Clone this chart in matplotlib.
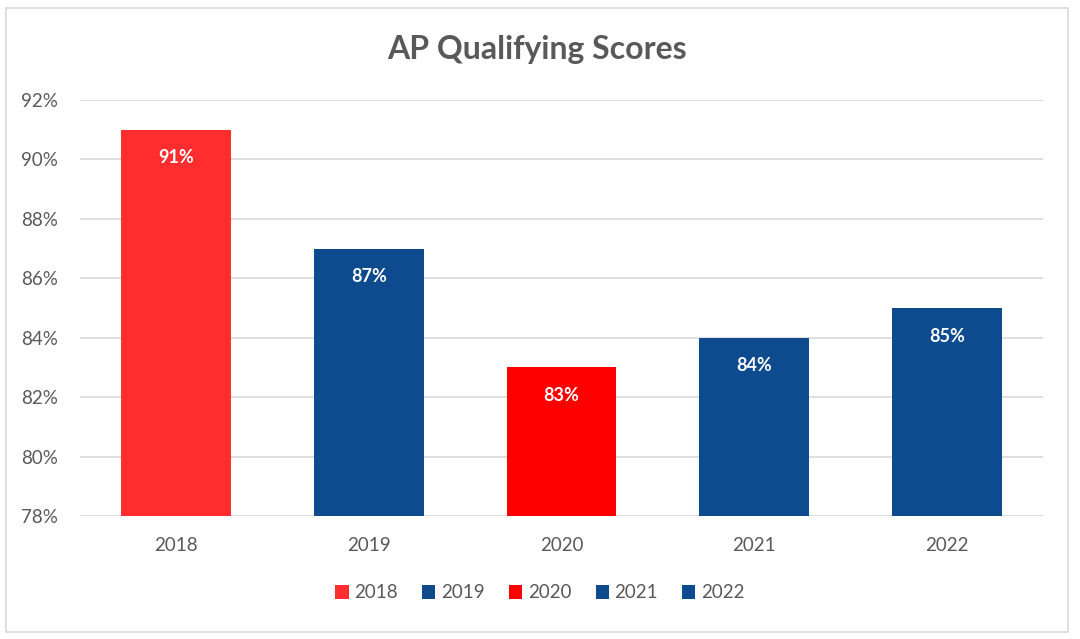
import matplotlib
matplotlib.use("Agg")
import matplotlib.pyplot as plt
from matplotlib.patches import Rectangle, Patch

years = ["2018", "2019", "2020", "2021", "2022"]
scores = [91, 87, 83, 84, 85]
colors = ["#FF2D2D", "#0D4A8E", "#FE0000", "#0D4A8E", "#0D4A8E"]
yticks = [78, 80, 82, 84, 86, 88, 90, 92]

plt.rcParams['font.family'] = ['Lato', 'DejaVu Sans']
W, H = 1080, 639
fig = plt.figure(figsize=(W/100, H/100), dpi=100)
fig.patch.set_facecolor("white")

# outer chart border
fig.patches.append(Rectangle((6/W, 1 - 632/H), (1068-6)/W, (632-8)/H,
                             transform=fig.transFigure, fill=False,
                             edgecolor="#D9D9D9", linewidth=1.2))

ax = fig.add_axes([80/W, 1 - 516/H, (1043-80)/W, (516-100)/H])
x = range(len(years))
bars = ax.bar(x, [s - 78 for s in scores], bottom=78, width=0.57, color=colors, zorder=3)
ax.set_ylim(78, 92)
ax.set_xlim(-0.5, 4.5)
ax.set_yticks(yticks)
ax.set_yticklabels([f"{t}%" for t in yticks])
ax.set_xticks(list(x))
ax.set_xticklabels(years)
ax.tick_params(axis='both', length=0, labelsize=13.5, colors="#595959")
ax.tick_params(axis='y', pad=16)
ax.tick_params(axis='x', pad=15)
ax.grid(axis='y', color="#D9D9D9", linewidth=1.2, zorder=0)
for s in ax.spines.values():
    s.set_visible(False)

for xi, s in zip(x, scores):
    ax.text(xi, s - 0.95, f"{s}%", ha='center', va='center', color='white',
            fontsize=13, fontweight='bold', zorder=4)

fig.text(537/W, 1 - 49/H, "AP Qualifying Scores", ha='center', va='center',
         fontsize=23, fontweight='bold', color="#595959")

handles = [Patch(facecolor=c, edgecolor='none') for c in colors]
fig.legend(handles, years, loc='center', bbox_to_anchor=(540/W, 1 - 593/H), ncol=5,
           frameon=False, fontsize=13.5, labelcolor="#595959", handlelength=0.7,
           handleheight=0.7, handletextpad=0.3, columnspacing=1.3)

fig.savefig("out.png", dpi=100, facecolor="white")
